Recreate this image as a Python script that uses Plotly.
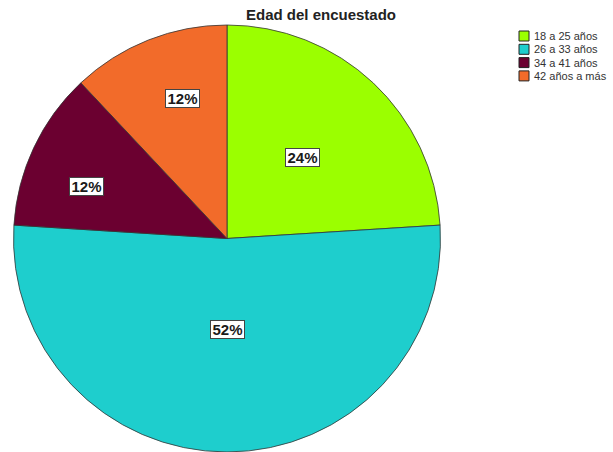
import math
import plotly.graph_objects as go

categories = ["18 a 25 años", "26 a 33 años", "34 a 41 años", "42 años a más"]
values = [24, 52, 12, 12]
colors = ["#9BFF00", "#1ECECD", "#6B0030", "#F26B2A"]
label_radius = [0.52, 0.424, 0.70, 0.69]   # label distance from centre, fraction of radius
label_turn = [0, 0, -5, 4]                  # small angular nudge of label (degrees)

W, H = 613, 452
dom_x = [13 / W, 441 / W]
dom_y = [0.0, 1 - 25 / H]

fig = go.Figure(go.Pie(
    labels=categories,
    values=values,
    sort=False,
    direction="clockwise",
    rotation=0,
    marker=dict(colors=colors, line=dict(color="#333333", width=0.8)),
    textinfo="none",
    hoverinfo="label+percent",
    domain=dict(x=dom_x, y=dom_y),
    showlegend=False,
))

# percentage labels in boxes, positioned from the slice angles
total = sum(values)
cx = (dom_x[0] + dom_x[1]) / 2 * W
cy = (dom_y[0] + dom_y[1]) / 2 * H
R = min((dom_x[1] - dom_x[0]) * W, (dom_y[1] - dom_y[0]) * H) / 2
cum = 0
for v, rf, turn in zip(values, label_radius, label_turn):
    mid = (cum + v / 2) / total * 2 * math.pi + math.radians(turn)
    cum += v
    px = cx + rf * R * math.sin(mid)
    py = cy + rf * R * math.cos(mid)
    fig.add_annotation(
        x=px / W, y=py / H, xref="paper", yref="paper",
        xanchor="center", yanchor="middle",
        text=f"<b>{round(100 * v / total)}%</b>", showarrow=False,
        font=dict(family="Liberation Sans, Arial", size=15, color="#1a1a1a"),
        bgcolor="white", bordercolor="#444444", borderwidth=1, borderpad=0,
        width=33, height=17,
    )

# legend: swatches + labels
leg_x0, leg_y0, leg_dy, sw = 519, 36, 13.3, 10
for i, (cat, col) in enumerate(zip(categories, colors)):
    yc = leg_y0 + i * leg_dy
    fig.add_shape(type="rect", xref="paper", yref="paper",
                  x0=leg_x0 / W, x1=(leg_x0 + sw) / W,
                  y0=1 - (yc - sw / 2) / H, y1=1 - (yc + sw / 2) / H,
                  fillcolor=col, line=dict(color="#222222", width=1))
    fig.add_annotation(x=(leg_x0 + sw + 3) / W, y=1 - yc / H, xref="paper", yref="paper",
                       xanchor="left", yanchor="middle", showarrow=False, text=cat,
                       font=dict(family="Liberation Sans, Arial", size=11, color="#333333"))

fig.update_layout(
    width=W, height=H,
    margin=dict(l=0, r=0, t=0, b=0),
    paper_bgcolor="white", plot_bgcolor="white",
    title=dict(text="<b>Edad del encuestado</b>", x=321 / W, xanchor="center",
               y=1 - 15 / H, yanchor="middle",
               font=dict(family="Liberation Sans, Arial", size=15, color="#222222")),
    showlegend=False,
)

fig.write_html("out.html", config={"displayModeBar": False},
               post_script="document.body.style.margin='0';document.body.style.overflow='hidden';")
